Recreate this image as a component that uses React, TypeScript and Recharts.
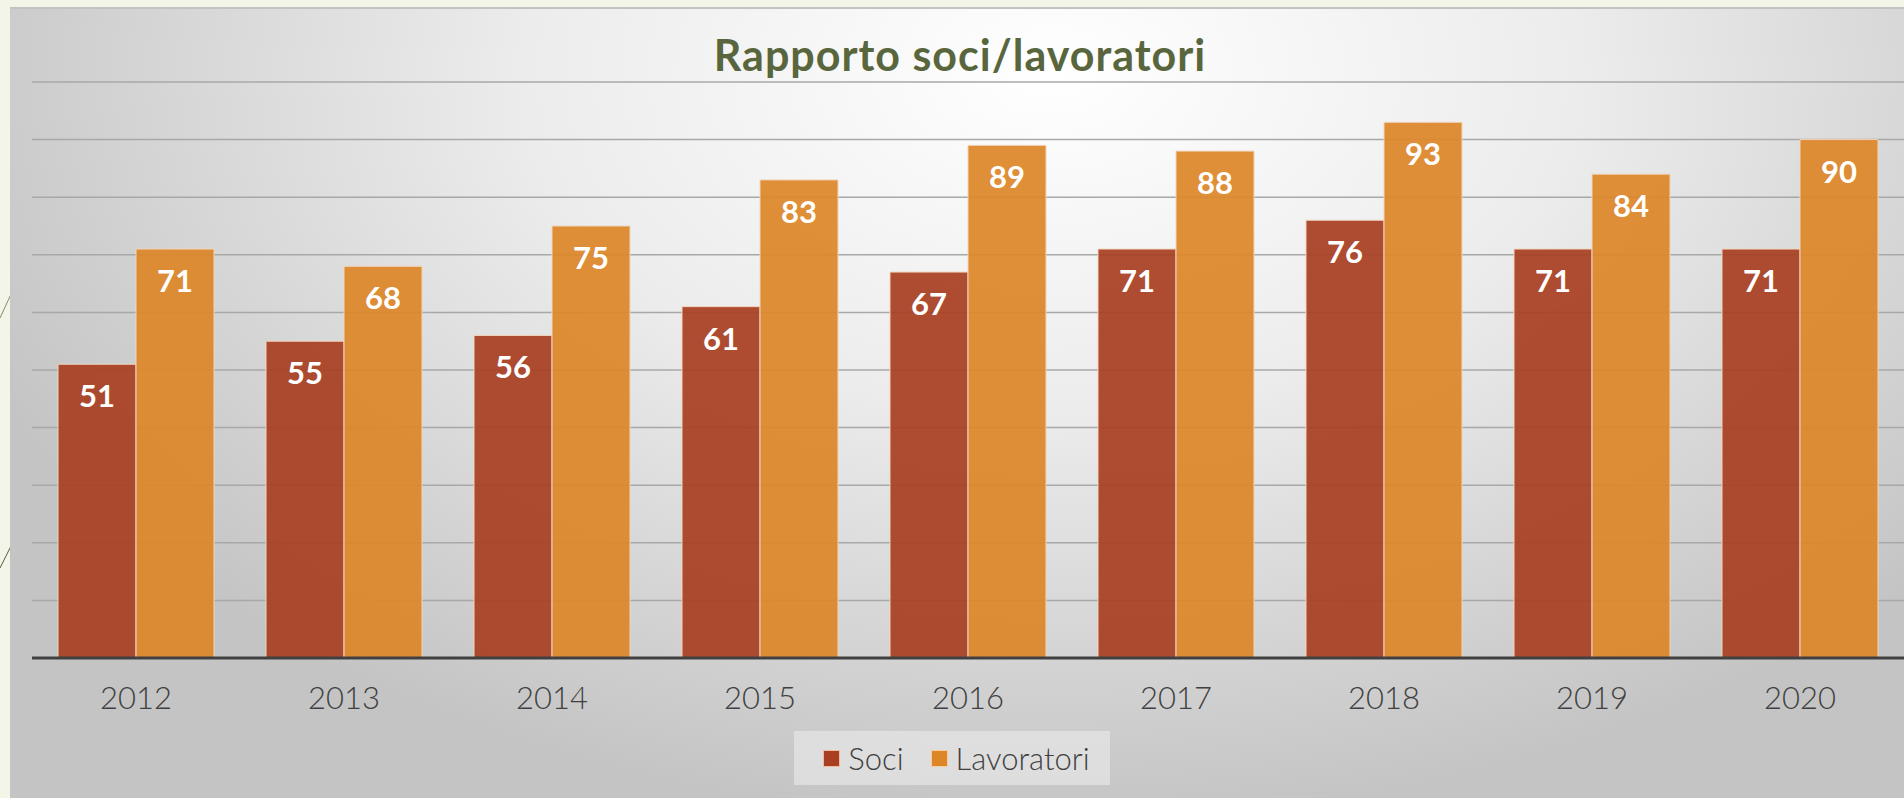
import {
  BarChart,
  Bar,
  XAxis,
  YAxis,
  CartesianGrid,
  Legend,
  LabelList,
} from "recharts";

const years = ["2012", "2013", "2014", "2015", "2016", "2017", "2018", "2019", "2020"];
const soci = [51, 55, 56, 61, 67, 71, 76, 71, 71];
const lavoratori = [71, 68, 75, 83, 89, 88, 93, 84, 90];
const yTicks = [0, 10, 20, 30, 40, 50, 60, 70, 80, 90, 100];

const seriesKeys = ["soci", "lavoratori"];
const seriesNames = ["Soci", "Lavoratori"];
const seriesColors = ["#a93f22", "#dd8628"];

const data = years.map((year, i) => ({
  year,
  soci: soci[i],
  lavoratori: lavoratori[i],
}));

function LegendBox() {
  return (
    <div style={{ display: "flex", justifyContent: "center" }}>
      <div
        style={{
          display: "flex",
          alignItems: "center",
          height: 54,
          padding: "0 20px 0 29px",
          background: "rgba(238,238,238,0.55)",
          fontFamily: "Lato",
          fontWeight: 300,
          fontSize: 31,
          color: "#404040",
        }}
      >
        {seriesKeys.map((k, i) => (
          <div
            key={k}
            style={{ display: "flex", alignItems: "center", marginLeft: i ? 27 : 0 }}
          >
            <span
              style={{
                width: 15,
                height: 15,
                background: seriesColors[i],
                border: "1px solid rgba(255,220,190,0.8)",
                marginRight: 8,
              }}
            />
            <span>{seriesNames[i]}</span>
          </div>
        ))}
      </div>
    </div>
  );
}

export default function App() {
  return (
    <div
      style={{
        position: "absolute",
        left: 0,
        top: 0,
        width: 1904,
        height: 798,
        overflow: "hidden",
        background: "#f3f5e8",
      }}
    >
      <svg
        width={12}
        height={798}
        style={{ position: "absolute", left: 0, top: 0 }}
      >
        <line x1={0} y1={318} x2={12} y2={292} stroke="#8a8a6a" strokeWidth={1} />
        <line x1={0} y1={568} x2={12} y2={544} stroke="#5a5a40" strokeWidth={1} />
      </svg>
      <div
        style={{
          position: "absolute",
          left: 10,
          top: 7,
          width: 1894,
          height: 791,
          borderTop: "2px solid #c2c2c2",
          background:
            "radial-gradient(ellipse 62% 95% at 55% 8%, #ffffff 0%, #ececec 45%, #d6d6d6 75%, #c4c4c4 100%)",
        }}
      />
      <div
        style={{
          position: "absolute",
          left: 0,
          top: 30,
          width: 1920,
          textAlign: "center",
          fontFamily: "Lato",
          fontWeight: 700,
          fontSize: 43,
          letterSpacing: 1,
          lineHeight: "50px",
          color: "#59663d",
        }}
      >
        Rapporto soci/lavoratori
      </div>
      <div style={{ position: "absolute", left: 0, top: 0 }}>
        <BarChart
          width={1904}
          height={798}
          data={data}
          margin={{ top: 82, right: 0, left: 32, bottom: 80 }}
          barCategoryGap="12.5%"
          barGap={0}
        >
          <CartesianGrid
            vertical={false}
            stroke="#a8a8a8"
            strokeWidth={1.5}
          />
          <YAxis hide domain={[0, 100]} ticks={yTicks} />
          <XAxis
            dataKey="year"
            height={60}
            tickLine={false}
            axisLine={{ stroke: "#404040", strokeWidth: 3 }}
            tickMargin={23}
            tick={{ fill: "#404040", fontSize: 31, fontFamily: "Lato", fontWeight: 300 }}
          />
          <Legend
            layout="horizontal"
            verticalAlign="middle"
            align="center"
            wrapperStyle={{ top: 731, left: 0, width: 1904 }}
            content={<LegendBox />}
          />
          {seriesKeys.map((k, i) => (
            <Bar
              key={k}
              dataKey={k}
              name={seriesNames[i]}
              fill={seriesColors[i]}
              fillOpacity={0.93}
              stroke="#f0d4bd"
              strokeWidth={1}
              isAnimationActive={false}
            >
              <LabelList
                dataKey={k}
                position="insideTop"
                offset={21}
                fill="#ffffff"
                fontSize={31}
                fontWeight={700}
                fontFamily="Lato"
              />
            </Bar>
          ))}
        </BarChart>
      </div>
    </div>
  );
}
